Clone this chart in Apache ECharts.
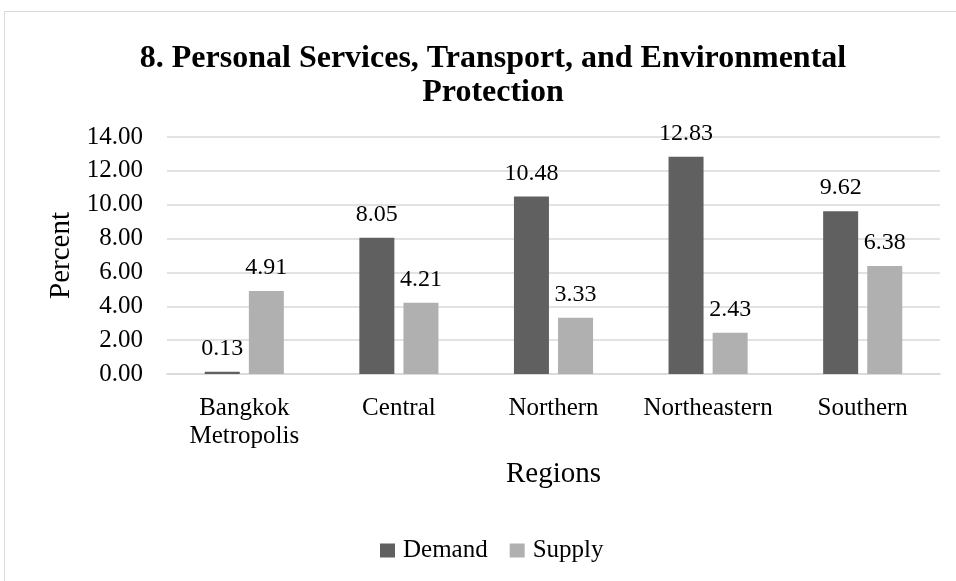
<!DOCTYPE html>
<html>
<head>
<meta charset="utf-8">
<script src="https://cdn.jsdelivr.net/npm/echarts@6/dist/echarts.min.js"></script>
<style>
html,body{margin:0;padding:0;background:#fff;}
#c{width:956px;height:581px;}
</style>
</head>
<body>
<div id="c"></div>
<script>
var categories = ['Bangkok\nMetropolis', 'Central', 'Northern', 'Northeastern', 'Southern'];
var demand = [0.13, 8.05, 10.48, 12.83, 9.62];
var supply = [4.91, 4.21, 3.33, 2.43, 6.38];
var titleText = '8. Personal Services, Transport, and Environmental\nProtection';

var FONT = '"Liberation Serif", "Times New Roman", serif';
var chart = echarts.init(document.getElementById('c'));
var lbl = {show: true, position: 'top', distance: 11, fontFamily: FONT, fontSize: 24, color: '#000',
  formatter: function (p) { return p.value.toFixed(2); }};
chart.setOption({
  animation: false,
  backgroundColor: '#fff',
  graphic: [{type: 'rect', shape: {x: 4.5, y: 11.5, width: 1000, height: 700},
    style: {fill: 'none', stroke: '#d9d9d9', lineWidth: 1}, silent: true, z: -1}],
  title: {
    text: titleText, left: 488, textAlign: 'center', top: 37,
    textStyle: {fontFamily: FONT, fontSize: 32, fontWeight: 'bold', color: '#000', lineHeight: 34}
  },
  legend: {
    bottom: 13, left: 375, itemWidth: 15, itemHeight: 14, itemGap: 22,
    icon: 'rect',
    textStyle: {fontFamily: FONT, fontSize: 25, color: '#000', padding: [0, 0, 0, 3]},
    data: ['Demand', 'Supply']
  },
  grid: {left: 167, right: 16, top: 137, bottom: 207, containLabel: false},
  xAxis: {
    type: 'category', data: categories,
    name: 'Regions', nameLocation: 'middle', nameGap: 86,
    nameTextStyle: {fontFamily: FONT, fontSize: 29, color: '#000'},
    axisLine: {lineStyle: {color: '#d9d9d9', width: 1.5}},
    axisTick: {show: false},
    axisLabel: {fontFamily: FONT, fontSize: 25, color: '#000', margin: 20, lineHeight: 28, interval: 0}
  },
  yAxis: {
    type: 'value', min: 0, max: 14, interval: 2,
    name: 'Percent', nameLocation: 'middle', nameGap: 90, nameRotate: 90,
    nameTextStyle: {fontFamily: FONT, fontSize: 29, color: '#000'},
    axisLine: {show: false}, axisTick: {show: false},
    axisLabel: {fontFamily: FONT, fontSize: 25, color: '#000', margin: 24,
      formatter: function (v) { return v.toFixed(2); }},
    splitLine: {lineStyle: {color: '#d9d9d9', width: 1.5}}
  },
  series: [
    {name: 'Demand', type: 'bar', data: demand, barWidth: 35, barGap: '26%',
      itemStyle: {color: '#606060'}, label: lbl},
    {name: 'Supply', type: 'bar', data: supply, barWidth: 35,
      itemStyle: {color: '#b0b0b0'}, label: lbl}
  ]
});
</script>
</body>
</html>
